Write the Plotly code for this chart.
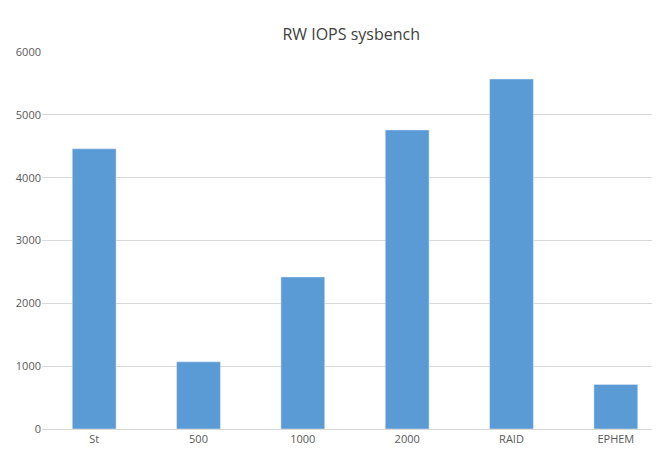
import plotly.graph_objects as go

categories = ["St", "500", "1000", "2000", "RAID", "EPHEM"]
values = [4460, 1070, 2420, 4760, 5570, 710]

fig = go.Figure(go.Bar(x=categories, y=values, marker_color="#5b9bd5"))
fig.update_layout(
    width=660, height=452,
    margin=dict(l=34, r=0, t=44, b=31),
    paper_bgcolor="white", plot_bgcolor="white",
    bargap=0.58,
    title=dict(text="RW IOPS sysbench", x=0.52, y=0.955, xanchor="center",
               font=dict(family="Open Sans", size=16, color="#404040")),
    font=dict(family="Open Sans", size=11, color="#595959"),
    showlegend=False,
)
fig.update_yaxes(range=[0, 6000], dtick=1000, gridcolor="#d9d9d9", zeroline=False,
                 showline=False, ticks="", tickfont=dict(size=11))
fig.update_xaxes(showline=True, linecolor="#d9d9d9", ticks="", tickfont=dict(size=11))
fig.write_html("out.html")
